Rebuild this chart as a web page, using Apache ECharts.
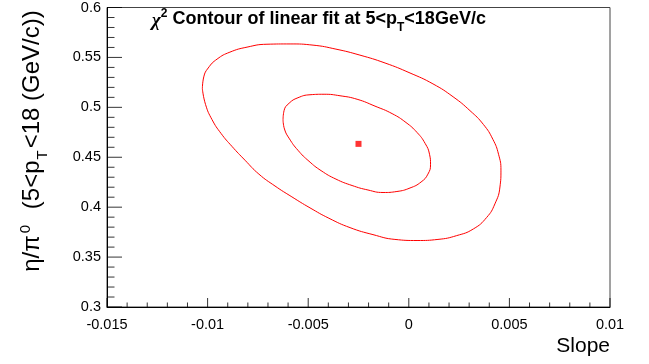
<!DOCTYPE html>
<html>
<head>
<meta charset="utf-8">
<script src="https://cdn.jsdelivr.net/npm/echarts@6/dist/echarts.min.js"></script>
<style>
html,body{margin:0;padding:0;background:#fff;}
#chart{width:649px;height:364px;}
</style>
</head>
<body>
<div id="chart"></div>
<script>
// Outer contour (slope, eta/pi0)
const outerContour = [
  [-0.01026, 0.5185], [-0.01019, 0.5305], [-0.00997, 0.5394], [-0.00953, 0.5483],
  [-0.00889, 0.5553], [-0.00804, 0.5603], [-0.00705, 0.5632], [-0.00590, 0.5635],
  [-0.00476, 0.5623], [-0.00362, 0.5583], [-0.00243, 0.5523], [-0.00118, 0.5444],
  [0.00006, 0.5344], [0.00120, 0.5235], [0.00220, 0.5106], [0.00304, 0.4967],
  [0.00371, 0.4828], [0.00418, 0.4679], [0.00446, 0.4530], [0.00458, 0.4371],
  [0.00453, 0.4202], [0.00428, 0.4033], [0.00387, 0.3897], [0.00321, 0.3782],
  [0.00238, 0.3715], [0.00145, 0.3677], [0.00041, 0.3666], [-0.00069, 0.3677],
  [-0.00178, 0.3725], [-0.00292, 0.3795], [-0.00397, 0.3889], [-0.00491, 0.3993],
  [-0.00581, 0.4103], [-0.00665, 0.4212], [-0.00745, 0.4331], [-0.00814, 0.4470],
  [-0.00879, 0.4609], [-0.00933, 0.4738], [-0.00978, 0.4877], [-0.01010, 0.5027],
  [-0.01026, 0.5185]
];
// Inner contour
const innerContour = [
  [-0.00625, 0.4877], [-0.00620, 0.4967], [-0.00595, 0.5041], [-0.00551, 0.5096],
  [-0.00491, 0.5126], [-0.00421, 0.5131], [-0.00342, 0.5116], [-0.00257, 0.5081],
  [-0.00168, 0.5012], [-0.00083, 0.4937], [-0.00014, 0.4848], [0.00041, 0.4748],
  [0.00081, 0.4639], [0.00103, 0.4530], [0.00108, 0.4430], [0.00095, 0.4331],
  [0.00061, 0.4252], [0.00006, 0.4192], [-0.00059, 0.4157], [-0.00128, 0.4147],
  [-0.00203, 0.4172], [-0.00282, 0.4217], [-0.00362, 0.4281], [-0.00436, 0.4366],
  [-0.00496, 0.4460], [-0.00551, 0.4570], [-0.00593, 0.4684], [-0.00618, 0.4783],
  [-0.00625, 0.4877]
];
// Best fit point
const bestFit = [[-0.0025, 0.4634]];

const xTickLabels = ['-0.015', '-0.01', '-0.005', '0', '0.005', '0.01'];
const yTickLabels = ['0.3', '0.35', '0.4', '0.45', '0.5', '0.55', '0.6'];

const X_MIN = -0.015, X_MAX = 0.01, X_MAJOR = 0.005, X_MINOR = 0.001;
const Y_MIN = 0.3, Y_MAX = 0.6, Y_MAJOR = 0.05, Y_MINOR = 0.01;

// tick positions along each axis (axis scaffolding, 5 minor divisions per major)
const xMajorTicks = [], xMinorTicks = [], yMajorTicks = [], yMinorTicks = [];
for (let i = 0; i <= Math.round((X_MAX - X_MIN) / X_MINOR); i++) {
  (i % 5 === 0 ? xMajorTicks : xMinorTicks).push([X_MIN + i * X_MINOR, Y_MIN]);
}
for (let i = 0; i <= Math.round((Y_MAX - Y_MIN) / Y_MINOR); i++) {
  (i % 5 === 0 ? yMajorTicks : yMinorTicks).push([X_MIN, Y_MIN + i * Y_MINOR]);
}

function tickSeries(data, size, offset) {
  return {
    type: 'scatter', data: data, symbol: 'rect', symbolSize: size, symbolOffset: offset,
    itemStyle: {color: '#000'}, silent: true, clip: false, z: 5
  };
}

const FONT = '"Liberation Sans", Arial, Helvetica, sans-serif';
const chart = echarts.init(document.getElementById('chart'), null, {renderer: 'canvas'});

chart.setOption({
  animation: false,
  backgroundColor: '#ffffff',
  title: {
    left: 152, top: 8, padding: 0,
    text: '{chi|χ}{sup|2}{b| Contour of linear fit at 5<p}{sub|T}{b|<18GeV/c}',
    textStyle: {
      fontFamily: FONT,
      rich: {
        chi: {fontFamily: '"Liberation Serif", serif', fontStyle: 'italic', fontSize: 19, color: '#000', lineHeight: 22, padding: [4, 0, 0, 0]},
        b: {fontFamily: FONT, fontSize: 18, fontWeight: 'bold', color: '#000', lineHeight: 22},
        sup: {fontFamily: FONT, fontSize: 12, fontWeight: 'bold', color: '#000', verticalAlign: 'top', lineHeight: 12},
        sub: {fontFamily: FONT, fontSize: 12, fontWeight: 'bold', color: '#000', verticalAlign: 'bottom', lineHeight: 12, padding: [0, 0, -4, 0]}
      }
    }
  },
  grid: {
    left: 107, right: 39, top: 5, bottom: 57,
    show: true, borderColor: '#444', borderWidth: 1, backgroundColor: 'rgba(0,0,0,0)'
  },
  graphic: [{
    type: 'text',
    x: 32, y: 141,
    rotation: Math.PI / 2,
    style: {
      text: '{g|η/π}{sup|0}{g| (5<p}{sub|T}{g|<18 (GeV/c))}',
      align: 'center', verticalAlign: 'middle',
      rich: {
        g: {fontFamily: FONT, fontSize: 24, fill: '#000', lineHeight: 27},
        sup: {fontFamily: FONT, fontSize: 15, fill: '#000', verticalAlign: 'top', lineHeight: 15, padding: [0, 9, 0, 2]},
        sub: {fontFamily: FONT, fontSize: 15, fill: '#000', verticalAlign: 'bottom', lineHeight: 15, padding: [0, 2, -5, 1]}
      }
    }
  }],
  xAxis: {
    type: 'value', position: 'bottom',
    min: X_MIN, max: X_MAX, interval: X_MAJOR,
    name: 'Slope',
    nameLocation: 'end',
    nameGap: 0,
    nameTextStyle: {
      fontFamily: FONT, fontSize: 21, color: '#000',
      align: 'right', verticalAlign: 'top', padding: [29, 0, 0, 0]
    },
    axisLine: {show: true, onZero: false, lineStyle: {color: '#000', width: 1}},
    axisTick: {show: false},
    splitLine: {show: false},
    axisLabel: {
      fontFamily: FONT, fontSize: 14.5, color: '#000', margin: 10,
      showMinLabel: true, showMaxLabel: true,
      formatter: function (v, i) { return xTickLabels[i] !== undefined ? xTickLabels[i] : ''; }
    }
  },
  yAxis: {
    type: 'value', position: 'left',
    min: Y_MIN, max: Y_MAX, interval: Y_MAJOR,
    axisLine: {show: true, onZero: false, lineStyle: {color: '#000', width: 1}},
    axisTick: {show: false},
    splitLine: {show: false},
    axisLabel: {
      fontFamily: FONT, fontSize: 14.5, color: '#000', margin: 6,
      showMinLabel: true, showMaxLabel: true,
      formatter: function (v, i) { return yTickLabels[i] !== undefined ? yTickLabels[i] : ''; }
    }
  },
  series: [
    {
      type: 'line', data: outerContour, smooth: 0.5, showSymbol: false, symbol: 'none',
      lineStyle: {color: '#ff0000', width: 1}
    },
    {
      type: 'line', data: innerContour, smooth: 0.5, showSymbol: false, symbol: 'none',
      lineStyle: {color: '#ff0000', width: 1}
    },
    {
      type: 'scatter', data: bestFit, symbol: 'rect', symbolSize: 6,
      itemStyle: {color: '#ff0000'}
    },
    tickSeries(xMajorTicks, [1, 9], [0, -4.5]),
    tickSeries(xMinorTicks, [1, 4.5], [0, -2.25]),
    tickSeries(yMajorTicks, [15, 1], [7.5, 0]),
    tickSeries(yMinorTicks, [7.5, 1], [3.75, 0])
  ]
});
</script>
</body>
</html>
